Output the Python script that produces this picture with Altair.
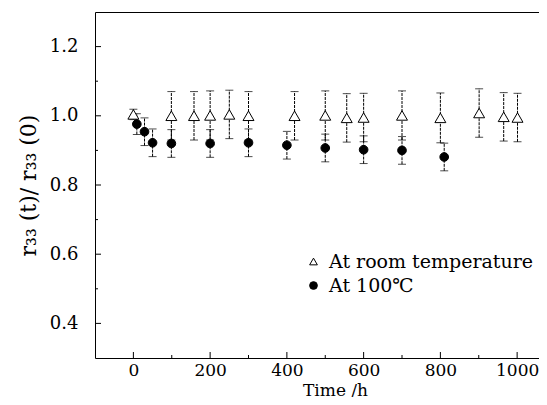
import altair as alt
import pandas as pd

# ---- data ----
series_names = ["At room temperature", "At 100℃"]

room_t = [0, 99, 158, 200, 250, 300, 420, 500, 556, 600, 700, 800, 901, 965, 1001]
room_y = [1.004, 1.000, 1.000, 1.001, 1.004, 1.000, 1.000, 1.001, 0.994, 0.995, 1.001, 0.994, 1.008, 0.997, 0.995]
room_err = [0.015, 0.070, 0.070, 0.071, 0.070, 0.070, 0.070, 0.071, 0.070, 0.070, 0.071, 0.072, 0.070, 0.070, 0.070]

hot_t = [9, 29, 50, 99, 200, 300, 400, 500, 600, 700, 810]
hot_y = [0.976, 0.954, 0.922, 0.920, 0.920, 0.922, 0.915, 0.907, 0.902, 0.900, 0.881]
hot_err = [0.030, 0.040, 0.040, 0.040, 0.040, 0.040, 0.040, 0.040, 0.040, 0.040, 0.040]

x_major = [0, 200, 400, 600, 800, 1000]
x_minor = [100, 300, 500, 700, 900]
y_major = [0.4, 0.6, 0.8, 1.0, 1.2]
y_minor = [0.5, 0.7, 0.9, 1.1]

rows = []
for t, y, e in zip(room_t, room_y, room_err):
    rows.append(dict(series=series_names[0], t=t, y=y, lo=y - e, hi=y + e))
for t, y, e in zip(hot_t, hot_y, hot_err):
    rows.append(dict(series=series_names[1], t=t, y=y, lo=y - e, hi=y + e))
df = pd.DataFrame(rows)

FONT = "DejaVu Serif"
W, H = 444, 346
xscale = alt.Scale(domain=[-100, 1057], nice=False, zero=False)
yscale = alt.Scale(domain=[0.3, 1.3], nice=False, zero=False)

leg = alt.Legend(title=None, symbolStrokeColor="black", symbolStrokeWidth=1)
shape_enc = alt.Shape("series:N", scale=alt.Scale(domain=series_names, range=["triangle-up", "circle"]),
                      legend=leg)
fill_enc = alt.Fill("series:N", scale=alt.Scale(domain=series_names, range=["white", "black"]), legend=leg)
stroke_enc = alt.Stroke("series:N", scale=alt.Scale(domain=series_names, range=["black", "black"]), legend=leg)

x_axis = alt.Axis(orient="bottom", values=x_major, format="d", ticks=False, grid=False, labelPadding=4,
                  labelFontSize=17, domainColor="black", title="Time /h", titleX=240, titleY=37,
                  titleBaseline="alphabetic", titleFontSize=17)
y_axis = alt.Axis(orient="left", values=y_major, format=".1f", ticks=False, grid=False, labelPadding=17,
                  domainColor="black", title="r₃₃ (t)/ r₃₃ (0)", titleFontSize=22, titlePadding=9)

tri = alt.Chart(df).transform_filter(alt.datum.series == series_names[0]).mark_point(
    strokeWidth=1, opacity=1, fillOpacity=1, size=120).encode(
    x=alt.X("t:Q", scale=xscale, axis=x_axis),
    y=alt.Y("y:Q", scale=yscale, axis=y_axis),
    shape=shape_enc,
    fill=fill_enc,
    stroke=stroke_enc,
)
dots = alt.Chart(df).transform_filter(alt.datum.series == series_names[1]).mark_point(
    strokeWidth=1, opacity=1, fillOpacity=1, size=75).encode(
    x=alt.X("t:Q", scale=xscale, axis=None),
    y=alt.Y("y:Q", scale=yscale, axis=None),
    shape=shape_enc,
    fill=fill_enc,
    stroke=stroke_enc,
)

bars = alt.Chart(df).mark_rule(color="black", strokeWidth=1, strokeDash=[3, 1]).encode(
    x=alt.X("t:Q", scale=xscale, axis=None),
    y=alt.Y("lo:Q", scale=yscale, axis=None),
    y2="hi:Q",
)
cap_lo = alt.Chart(df).mark_tick(orient="horizontal", size=8, thickness=1, color="black").encode(
    x=alt.X("t:Q", scale=xscale, axis=None),
    y=alt.Y("lo:Q", scale=yscale, axis=None),
)
cap_hi = alt.Chart(df).mark_tick(orient="horizontal", size=8, thickness=1, color="black").encode(
    x=alt.X("t:Q", scale=xscale, axis=None),
    y=alt.Y("hi:Q", scale=yscale, axis=None),
)

xt_major = alt.Chart(pd.DataFrame({"v": x_major})).mark_rule(color="black").encode(
    x=alt.X("v:Q", scale=xscale, axis=alt.Axis(orient="top", labels=False, ticks=False, grid=False,
                                                 title=None, domainColor="black")),
    y=alt.value(H), y2=alt.value(H - 6),
)
xt_minor = alt.Chart(pd.DataFrame({"v": x_minor})).mark_rule(color="black").encode(
    x=alt.X("v:Q", scale=xscale, axis=None),
    y=alt.value(H), y2=alt.value(H - 3),
)
yt_major = alt.Chart(pd.DataFrame({"v": y_major})).mark_rule(color="black").encode(
    y=alt.Y("v:Q", scale=yscale, axis=None),
    x=alt.value(0), x2=alt.value(6),
)
yt_minor = alt.Chart(pd.DataFrame({"v": y_minor})).mark_rule(color="black").encode(
    y=alt.Y("v:Q", scale=yscale, axis=None),
    x=alt.value(0), x2=alt.value(3),
)

chart = alt.layer(bars, cap_lo, cap_hi, tri, dots, xt_major, xt_minor, yt_major, yt_minor).resolve_axis(
    x="independent", y="independent"
).properties(
    width=W, height=H,
    autosize=alt.AutoSizeParams(type="none"),
    padding={"left": 87, "top": 4, "right": 0, "bottom": 39},
).configure_view(stroke=None).configure_axis(
    labelFont=FONT, labelFontSize=18, labelColor="black",
    titleFont=FONT, titleFontSize=18, titleFontWeight="normal", titleColor="black",
    domainWidth=1,
).configure_legend(
    orient="none", legendX=209, legendY=240, labelFont=FONT, labelFontSize=19, labelColor="black",
    symbolSize=60, symbolStrokeColor="black", symbolStrokeWidth=1, labelOffset=6, labelLimit=0,
    rowPadding=4, padding=0,
)

chart.save("out.html", embed_options={"renderer": "svg", "actions": False})
